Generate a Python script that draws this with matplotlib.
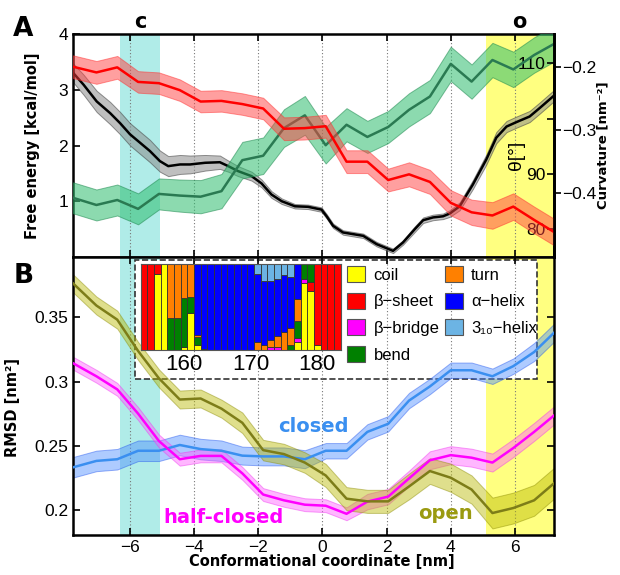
import matplotlib
matplotlib.use('Agg')
import matplotlib.pyplot as plt
from matplotlib.patches import Patch, Rectangle

plt.rcParams['font.family'] = ['Liberation Sans', 'DejaVu Sans']
BOLD = dict(family=['DejaVu Sans'], fontweight='bold')

# ---- data ----
# coordinate grid (nm) for curvature / angle / RMSD curves
coord = [-7.78, -7.05, -6.40, -5.75, -5.10, -4.45, -3.80, -3.15, -2.50, -1.85, -1.20, -0.55,
         0.10, 0.75, 1.40, 2.05, 2.70, 3.35, 4.00, 4.65, 5.30, 5.95, 6.60, 7.25]

# free energy profile (finer sampling)
fe_x = [-7.77, -7.45, -7.04, -6.62, -6.31, -6.00, -5.69, -5.38, -5.07, -4.81,
        -4.44, -4.13, -3.66, -3.20, -2.94, -2.63, -2.21, -1.90, -1.59, -1.27,
        -0.86, -0.45, -0.03, 0.13, 0.33, 0.64, 1.27, 1.69, 2.20, 2.51,
        2.88, 3.14, 3.45, 3.76, 3.97, 4.28, 4.69, 5.11, 5.42, 5.74,
        6.05, 6.46, 6.77, 7.19]
fe = [3.30, 3.09, 2.79, 2.58, 2.40, 2.20, 2.05, 1.90, 1.72, 1.63,
      1.66, 1.66, 1.69, 1.70, 1.63, 1.54, 1.45, 1.32, 1.12, 1.00,
      0.91, 0.90, 0.85, 0.73, 0.56, 0.44, 0.38, 0.23, 0.11, 0.26,
      0.50, 0.66, 0.71, 0.73, 0.78, 0.91, 1.30, 1.75, 2.14, 2.34,
      2.42, 2.52, 2.67, 2.88]
fe_err = [0.17, 0.18, 0.19, 0.20, 0.20, 0.20, 0.20, 0.20, 0.19, 0.18,
          0.17, 0.16, 0.14, 0.12, 0.10, 0.09, 0.08, 0.07, 0.06, 0.05,
          0.04, 0.04, 0.04, 0.04, 0.04, 0.04, 0.04, 0.04, 0.04, 0.04,
          0.05, 0.05, 0.05, 0.05, 0.06, 0.07, 0.08, 0.09, 0.10, 0.10,
          0.10, 0.10, 0.10, 0.10]

theta = [85.7, 84.4, 85.3, 83.7, 86.4, 86.1, 85.9, 86.9, 92.5, 93.3, 98.3, 100.6,
         95.2, 98.9, 96.7, 98.5, 101.6, 104.0, 109.9, 106.7, 110.6, 108.9, 111.5, 113.6]
theta_err = [2.8, 2.8, 2.8, 2.8, 2.8, 2.9, 3.0, 3.1, 3.3, 3.3, 3.4, 3.5,
             3.3, 3.0, 2.9, 2.9, 3.0, 3.0, 3.1, 3.1, 3.1, 3.2, 3.2, 3.2]

curv = [-0.200, -0.209, -0.201, -0.224, -0.226, -0.237, -0.255, -0.254, -0.259, -0.266, -0.298, -0.297,
        -0.294, -0.350, -0.350, -0.379, -0.370, -0.382, -0.415, -0.430, -0.435, -0.421, -0.442, -0.462]
curv_err = [0.018, 0.018, 0.018, 0.017, 0.017, 0.017, 0.017, 0.017, 0.017, 0.017, 0.018, 0.018,
            0.018, 0.018, 0.018, 0.018, 0.019, 0.019, 0.020, 0.020, 0.021, 0.021, 0.021, 0.021]

rmsd_closed = [0.2332, 0.2382, 0.2395, 0.2461, 0.2461, 0.2506, 0.2474, 0.2461, 0.2423, 0.2417, 0.2417, 0.2395,
               0.2461, 0.2461, 0.2608, 0.2671, 0.2852, 0.2962, 0.3088, 0.3088, 0.3041, 0.3120, 0.3230, 0.3387]
err_closed = [0.008, 0.008, 0.008, 0.008, 0.008, 0.008, 0.008, 0.008, 0.007, 0.007, 0.007, 0.007,
              0.006, 0.006, 0.006, 0.006, 0.006, 0.006, 0.006, 0.006, 0.006, 0.006, 0.007, 0.007]
rmsd_half = [0.3143, 0.3041, 0.2939, 0.2750, 0.2537, 0.2395, 0.2421, 0.2421, 0.2285, 0.2120, 0.2075, 0.2041,
             0.2033, 0.1970, 0.2065, 0.2104, 0.2246, 0.2387, 0.2427, 0.2407, 0.2369, 0.2482, 0.2608, 0.2742]
err_half = [0.005, 0.005, 0.005, 0.005, 0.005, 0.005, 0.005, 0.005, 0.005, 0.005, 0.005, 0.005,
            0.005, 0.005, 0.006, 0.006, 0.006, 0.007, 0.007, 0.007, 0.007, 0.007, 0.007, 0.007]
rmsd_open = [0.3765, 0.3592, 0.3482, 0.3238, 0.3025, 0.2860, 0.2868, 0.2789, 0.2679, 0.2466, 0.2435, 0.2369,
             0.2269, 0.2088, 0.2067, 0.2067, 0.2183, 0.2303, 0.2251, 0.2159, 0.1976, 0.2015, 0.2075, 0.2214]
err_open = [0.007, 0.007, 0.007, 0.007, 0.007, 0.007, 0.007, 0.007, 0.008, 0.008, 0.008, 0.008,
            0.009, 0.009, 0.009, 0.009, 0.010, 0.010, 0.011, 0.011, 0.012, 0.012, 0.012, 0.012]

# secondary structure fractions per residue (inset)
residues = list(range(154, 184))
ss_names = ['coil', 'β−sheet', 'β−bridge', 'bend', 'turn', 'α−helix', '3₁₀−helix']
ss_colors = ['#ffff00', '#ff0000', '#ff00ff', '#008000', '#ff8000', '#0000ff', '#6cb4e4']
ss_coil = [0, 0, 0.884, 1, 0, 0, 0.04, 0.426, 0.058, 0, 0, 0, 0, 0, 0, 0, 0, 0, 0, 0,
           0, 0, 0, 0.097, 0.783, 0.69, 0.058, 0, 0, 0]
ss_sheet = [1, 1, 0.116, 0, 0, 0, 0, 0, 0, 0, 0, 0, 0, 0, 0, 0, 0, 0, 0, 0,
            0, 0, 0, 0, 0, 0.105, 0.942, 1, 1, 1]
ss_bridge = [0, 0, 0, 0, 0, 0, 0, 0, 0, 0, 0, 0, 0, 0, 0, 0, 0, 0, 0, 0.031,
             0.031, 0, 0, 0.039, 0.039, 0, 0, 0, 0, 0]
ss_bend = [0, 0, 0, 0, 0.368, 0.368, 0.56, 0.186, 0.089, 0, 0, 0, 0, 0, 0, 0, 0, 0, 0, 0,
           0, 0, 0.058, 0.205, 0.178, 0.205, 0, 0, 0, 0]
ss_turn = [0, 0, 0, 0, 0.632, 0.632, 0.40, 0.388, 0.027, 0.012, 0, 0, 0, 0, 0, 0, 0, 0.097, 0.058, 0.085,
           0.132, 0.213, 0.194, 0.248, 0, 0, 0, 0, 0, 0]
ss_alpha = [0, 0, 0, 0, 0, 0, 0, 0, 0.826, 0.988, 1, 1, 1, 1, 1, 1, 1, 0.787, 0.748, 0.69,
            0.659, 0.659, 0.601, 0.411, 0, 0, 0, 0, 0, 0]
ss_310 = [0, 0, 0, 0, 0, 0, 0, 0, 0, 0, 0, 0, 0, 0, 0, 0, 0, 0.116, 0.194, 0.194,
          0.178, 0.128, 0.147, 0, 0, 0, 0, 0, 0, 0]
ss_data = [ss_coil, ss_sheet, ss_bridge, ss_bend, ss_turn, ss_alpha, ss_310]

xticks = [-6, -4, -2, 0, 2, 4, 6]
closed_band = (-6.31, -5.07)
open_band = (5.09, 7.4)

# ---- figure ----
fig = plt.figure(figsize=(6.2, 5.75), dpi=100)
L, W = 73 / 620, 481 / 620
ax1 = fig.add_axes([L, 1 - 257 / 575, W, 223 / 575])
ax2 = fig.add_axes([L, 1 - 535 / 575, W, 278 / 575])
xlim = (-7.78, 7.22)
TICK = 12.5

for ax in (ax1, ax2):
    ax.set_xlim(*xlim)
    ax.axvspan(*closed_band, color='#b0ece8', zorder=0, lw=0)
    ax.axvspan(*open_band, color='#ffff80', zorder=0, lw=0)
    ax.set_xticks(xticks)
    ax.set_axisbelow('line')
    ax.grid(axis='x', linestyle=(0, (1, 2)), color='#777777', lw=0.8)
    ax.tick_params(axis='x', direction='in', top=True, length=5, width=1.2, labelsize=TICK)
    for s in ax.spines.values():
        s.set_linewidth(1.8)

# top panel
ax1.set_ylim(0, 4)
ax1.set_yticks([1, 2, 3, 4])
ax1.tick_params(axis='y', direction='in', length=5, width=1.2, labelsize=TICK)
ax1.tick_params(axis='x', labelbottom=False)
ax1.fill_between(fe_x, [a - e for a, e in zip(fe, fe_err)], [a + e for a, e in zip(fe, fe_err)],
                 facecolor='#8c8c8c', edgecolor='#404040', alpha=0.55, lw=0.7, zorder=2)
ax1.plot(fe_x, fe, color='black', lw=1.8, zorder=3)
ax1.set_ylabel('Free energy [kcal/mol]', fontsize=10.5, **BOLD)
ax1.yaxis.set_label_coords(-0.068, 0.5)

ax_t = ax1.twinx()
ax_t.set_ylim(75.0, 115.3)
ax_t.set_xlim(*xlim)
ax_t.set_yticks([80, 90, 100, 110], ['80', '90', '', '110'])
ax_t.tick_params(axis='y', direction='in', length=5, width=1.2, pad=-6, labelsize=TICK)
plt.setp(ax_t.get_yticklabels(), ha='right')
ax_t.fill_between(coord, [a - e for a, e in zip(theta, theta_err)], [a + e for a, e in zip(theta, theta_err)],
                  facecolor='#2ebd6e', edgecolor='#1f8a50', alpha=0.55, lw=0.7)
ax_t.plot(coord, theta, color='#2a7a52', lw=1.8)

ax_c = ax1.twinx()
ax_c.set_ylim(-0.5006, -0.1483)
ax_c.set_xlim(*xlim)
ax_c.set_yticks([-0.4, -0.3, -0.2], ['−0.4', '−0.3', '−0.2'])
ax_c.tick_params(axis='y', direction='out', length=5, width=1.2, pad=1, labelsize=TICK)
ax_c.fill_between(coord, [a - e for a, e in zip(curv, curv_err)], [a + e for a, e in zip(curv, curv_err)],
                  facecolor='#ff4040', edgecolor='#ff3030', alpha=0.5, lw=0.7)
ax_c.plot(coord, curv, color='#ff0000', lw=1.8)
ax_c.set_ylabel('Curvature [nm⁻²]', fontsize=9.5, **BOLD)
ax_c.yaxis.set_label_coords(1.088, 0.5)
for ax in (ax_t, ax_c):
    for k in ('left', 'top', 'bottom'):
        ax.spines[k].set_visible(False)
    ax.spines['right'].set_linewidth(1.8)

# bottom panel
ax2.set_ylim(0.1805, 0.397)
ax2.set_yticks([0.2, 0.25, 0.3, 0.35], ['0.2', '0.25', '0.3', '0.35'])
ax2.tick_params(axis='y', direction='in', right=True, length=5, width=1.2, labelsize=TICK)
ax2.set_xticklabels(['−6', '−4', '−2', '0', '2', '4', '6'])
ax2.add_patch(Rectangle((0.129, 0.561), 0.836, 0.428, transform=ax2.transAxes,
                        facecolor='white', edgecolor='#333333', ls='--', lw=1.2, zorder=1))

curves = [(rmsd_closed, err_closed, '#3a8ff0', '#4d8cff', '#2255ee'),
          (rmsd_half, err_half, '#ff00ff', '#ff60ff', '#ee33ee'),
          (rmsd_open, err_open, '#7d7d18', '#b8b800', '#8a8a00')]
for vals, err, lc, fc, ec in curves:
    ax2.fill_between(coord, [a - e for a, e in zip(vals, err)], [a + e for a, e in zip(vals, err)],
                     facecolor=fc, edgecolor=ec, alpha=0.45, lw=0.7, zorder=2)
    ax2.plot(coord, vals, color=lc, lw=1.8, zorder=3)

ax2.text(-0.28, 0.261, 'closed', color='#3a8ff0', fontsize=14, ha='center', va='baseline', **BOLD)
ax2.text(-3.09, 0.190, 'half-closed', color='#ff00ff', fontsize=14, ha='center', va='baseline', **BOLD)
ax2.text(3.82, 0.1928, 'open', color='#9a9a10', fontsize=14, ha='center', va='baseline', **BOLD)
ax2.set_ylabel('RMSD [nm²]', fontsize=10.5, **BOLD)
ax2.yaxis.set_label_coords(-0.11, 0.46)
ax2.set_xlabel('Conformational coordinate [nm]', fontsize=10.5, **BOLD)
ax2.xaxis.set_label_coords(0.5166, -0.068)

# inset: secondary structure per residue
axi = fig.add_axes([140.7 / 620, 1 - 350 / 575, 200 / 620, 86 / 575])
bottom = [0.0] * len(residues)
for frac, col in zip(ss_data, ss_colors):
    axi.bar(residues, frac, width=1.0, bottom=bottom, color=col, edgecolor='#333333', lw=0.6)
    bottom = [b + f for b, f in zip(bottom, frac)]
axi.set_xlim(153.5, 183.5)
axi.set_ylim(0, 1)
axi.set_yticks([])
axi.set_xticks([160, 170, 180])
axi.tick_params(axis='x', length=0, pad=3, labelsize=16)
for s in axi.spines.values():
    s.set_linewidth(0.8)
    s.set_color('#555555')

handles = [Patch(facecolor=c, edgecolor='#555555', lw=0.8) for c in ss_colors]
fig.legend(handles, ss_names, ncol=2, loc='upper left', bbox_to_anchor=(347 / 620, 1 - 266 / 575),
           frameon=False, fontsize=12, handlelength=1.1, handleheight=1.1, handletextpad=0.5,
           columnspacing=0.3, labelspacing=0.6, borderpad=0, borderaxespad=0)

# annotations
ax1.text(-5.69, 1.055, 'c', transform=ax1.get_xaxis_transform(), ha='center', va='center', fontsize=15, **BOLD)
ax1.text(6.15, 1.055, 'o', transform=ax1.get_xaxis_transform(), ha='center', va='center', fontsize=15, **BOLD)
fig.text(517 / 620, 1 - 155 / 575, 'θ[°]', rotation=90, ha='center', va='center', fontsize=14)
fig.text(23 / 620, 1 - 29 / 575, 'A', ha='center', va='center', fontsize=19, **BOLD)
fig.text(24 / 620, 1 - 276 / 575, 'B', ha='center', va='center', fontsize=19, **BOLD)

fig.savefig('out.png', dpi=100)
